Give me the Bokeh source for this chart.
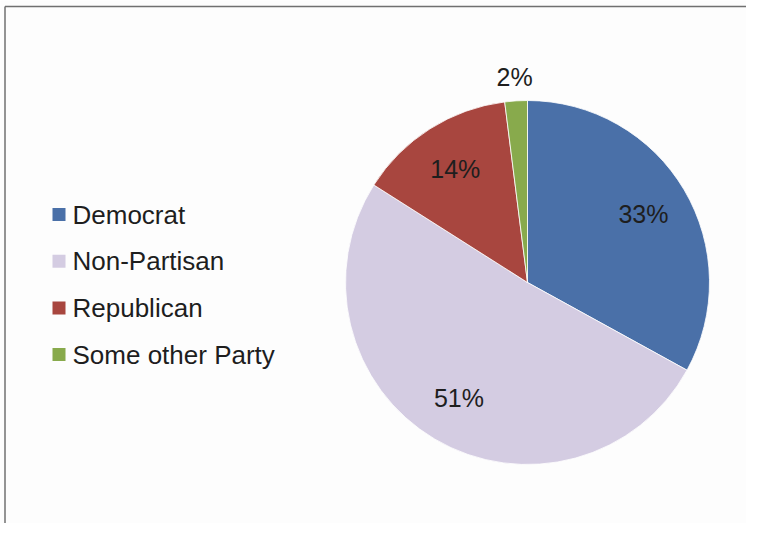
import math
from bokeh.plotting import figure
from bokeh.models import Range1d, ColumnDataSource
from bokeh.core.properties import value
from bokeh.embed import file_html
from bokeh.resources import INLINE

# ---- data ----
categories = ["Democrat", "Non-Partisan", "Republican", "Some other Party"]
shares = [33, 51, 14, 2]
labels = ["33%", "51%", "14%", "2%"]
colors = ["#4A70A8", "#D4CCE2", "#A8463F", "#88AA4C"]

W, H = 746, 523
IMG_H = 539
OX, OY = 0, 0  # page offset as observed

def yy(img_y):
    return IMG_H - img_y

p = figure(width=W, height=H, output_backend="svg", toolbar_location=None,
           x_range=Range1d(OX, OX + W), y_range=Range1d(IMG_H - OY - H, IMG_H - OY),
           min_border=0, outline_line_color=None)
p.axis.visible = False
p.grid.visible = False
p.background_fill_color = "#FDFDFD"
p.border_fill_color = "#FDFDFD"

# frame lines (top and left)
p.line([4.5, 758], [yy(6), yy(6)], line_color="#707070", line_width=1.5)
p.line([4.5, 4.5], [yy(6), yy(539)], line_color="#707070", line_width=1.5)

cx, cy, r = 527, yy(282), 182
total = float(sum(shares))
starts, ends, lx, ly = [], [], [], []
acc = 0.0
for i, s in enumerate(shares):
    a0 = math.pi / 2 - 2 * math.pi * acc / total
    a1 = math.pi / 2 - 2 * math.pi * (acc + s) / total
    starts.append(a0)
    ends.append(a1)
    mid = (a0 + a1) / 2
    rr = r * 0.74 if s / total > 0.05 else r + 24
    lx.append(cx + rr * math.cos(mid))
    ly.append(cy + rr * math.sin(mid))
    acc += s

src = ColumnDataSource(dict(start=starts, end=ends, color=colors, cat=categories,
                            lx=lx, ly=ly, lab=labels))
p.wedge(x=cx, y=cy, radius=r, start_angle="start", end_angle="end",
        direction="clock", fill_color="color", line_color="#FFFFFF",
        line_width=0.8, source=src)
p.text(x="lx", y="ly", text="lab", source=src, text_align="center",
       text_baseline="middle", text_font=value("Liberation Sans"),
       text_font_size="25px", text_color="#1E1E1E")

# legend (manual)
leg_y = [yy(214 + 46.7 * i) for i in range(len(categories))]
p.rect(x=[58.5] * len(categories), y=leg_y, width=13, height=13,
       fill_color=colors, line_color=None)
p.text(x=[72] * len(categories), y=leg_y, text=categories,
       text_align="left", text_baseline="middle",
       text_font=value("Liberation Sans"), text_font_size="26px",
       text_color="#1E1E1E")

open("out.html", "w").write(file_html(p, INLINE))
